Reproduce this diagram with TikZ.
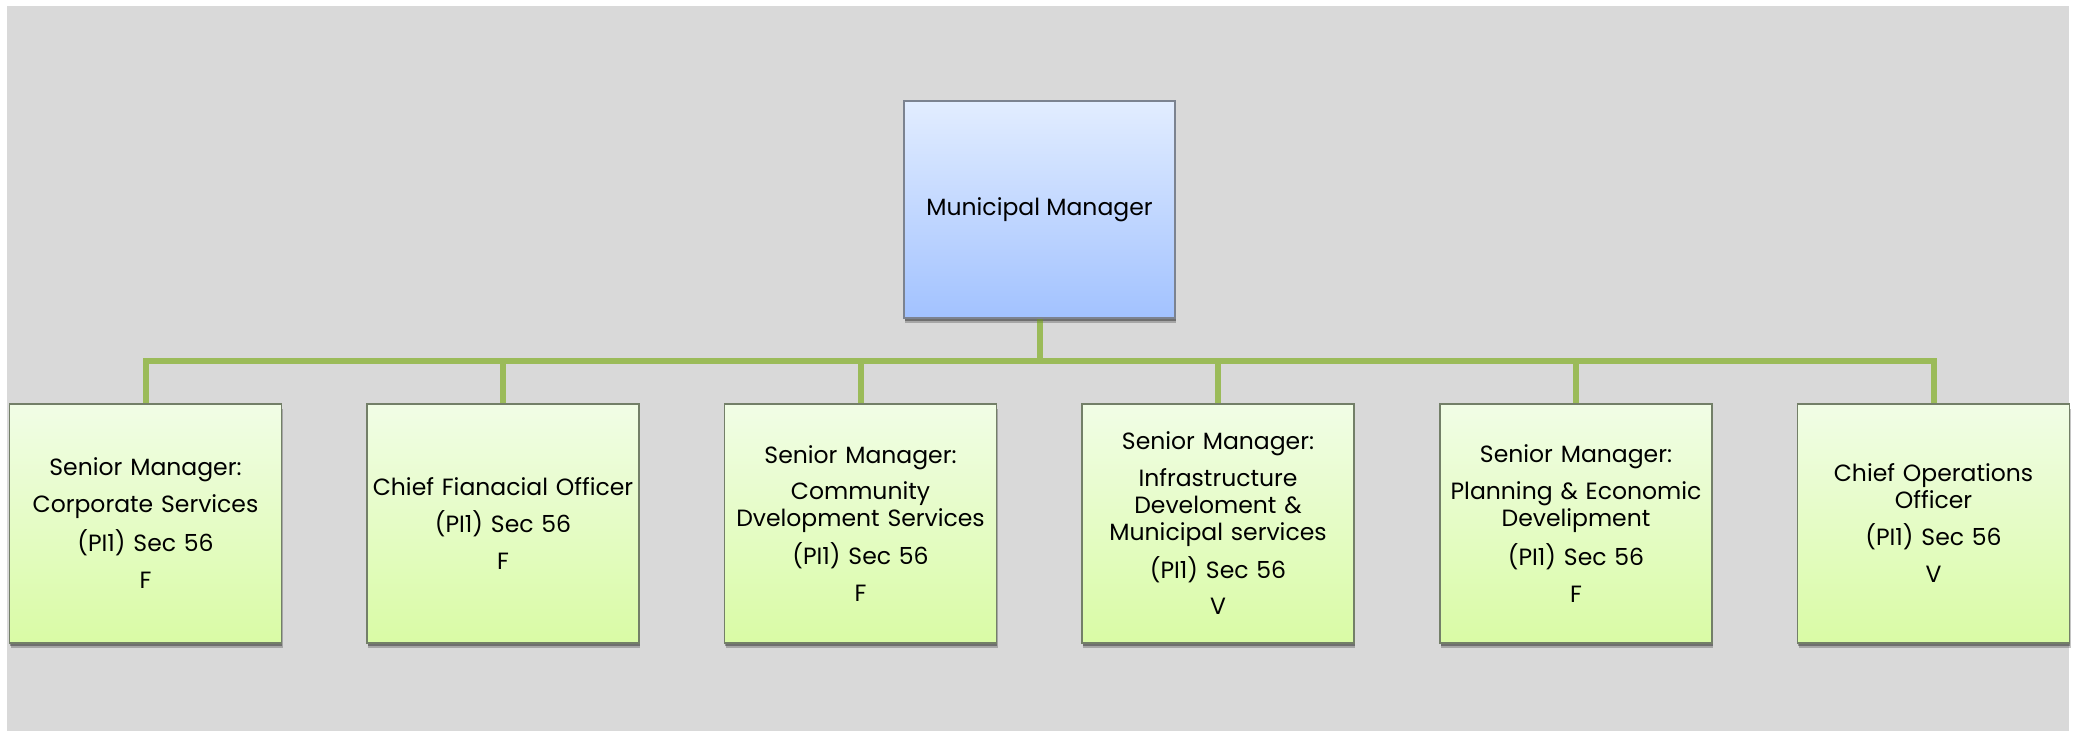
\documentclass[tikz,border=0pt]{standalone}
\usepackage{fontspec}
\setmainfont{Poppins}
\usetikzlibrary{shadows}
\definecolor{bggray}{HTML}{D9D9D9}
\definecolor{bluetop}{HTML}{E2EDFF}
\definecolor{bluebot}{HTML}{A2C2FF}
\definecolor{blueedge}{HTML}{7C8390}
\definecolor{greentop}{HTML}{F1FDE6}
\definecolor{greenbot}{HTML}{D9FBA5}
\definecolor{greenedge}{HTML}{737F68}
\definecolor{conngreen}{HTML}{9BBB59}
\tikzset{
  boxshadow/.style={drop shadow={shadow xshift=1pt,shadow yshift=-5pt,opacity=0.12,fill=black},
                    drop shadow={shadow xshift=0.5pt,shadow yshift=-2.5pt,opacity=0.18,fill=black}},
  topbox/.style={rectangle, draw=blueedge, line width=1.4pt, minimum width=271pt, minimum height=217pt,
                 inner sep=2pt, shading=axis, top color=bluetop, bottom color=bluebot, boxshadow,
                 font=\fontsize{23.5}{27}\selectfont, align=center},
  childbox/.style={rectangle, draw=greenedge, line width=1.4pt, minimum width=271pt, minimum height=239pt,
                 inner sep=2pt, shading=axis, top color=greentop, bottom color=greenbot, boxshadow,
                 font=\fontsize{23.5}{27}\selectfont, align=center, text width=268pt},
  conn/.style={draw=conngreen, line width=6pt, line join=miter, line cap=rect}
}
\begin{document}
\begin{tikzpicture}[x=1pt,y=-1pt]
\useasboundingbox (0,0) rectangle (2076,731);
\fill[white] (0,0) rectangle (2076,731);
\fill[bggray] (7,6) rectangle (2069,731);
\coordinate (bus) at (1039.5,361);
\path (1039.5,209.5) coordinate (mmc);
\node[childbox] (b1) at (145.5,523.5) {};
\node[childbox] (b2) at (503,523.5) {};
\node[childbox] (b3) at (860.5,523.5) {};
\node[childbox] (b4) at (1218,523.5) {};
\node[childbox] (b5) at (1576,523.5) {};
\node[childbox] (b6) at (1933.5,523.5) {};
\node[topbox] (mm) at (mmc) {};
\draw[conn] (mm.south) -- (bus);
\foreach \b in {b1,b2,b3,b4,b5,b6}{
  \draw[conn] (bus) -| (\b.north);
}
\node[topbox] at (mm) {Municipal Manager};
\node[childbox] at (b1) {Senior Manager:\\[10pt]Corporate Services\\[10pt](PI1) Sec 56\\[10pt]F};
\node[childbox] at (b2) {Chief Fianacial Officer\\[10pt](PI1) Sec 56\\[10pt]F};
\node[childbox] at (b3) {Senior Manager:\\[9pt]Community\\Dvelopment Services\\[9pt](PI1) Sec 56\\[10pt]F};
\node[childbox] at (b4) {Senior Manager:\\[10pt]Infrastructure\\Develoment \&\\Municipal services\\[9pt](PI1) Sec 56\\[9pt]V};
\node[childbox] at (b5) {Senior Manager:\\[10pt]Planning \& Economic\\Develipment\\[10pt](PI1) Sec 56\\[10pt]F};
\node[childbox] at (b6) {Chief Operations\\Officer\\[10pt](PI1) Sec 56\\[10pt]V};
\end{tikzpicture}
\end{document}
